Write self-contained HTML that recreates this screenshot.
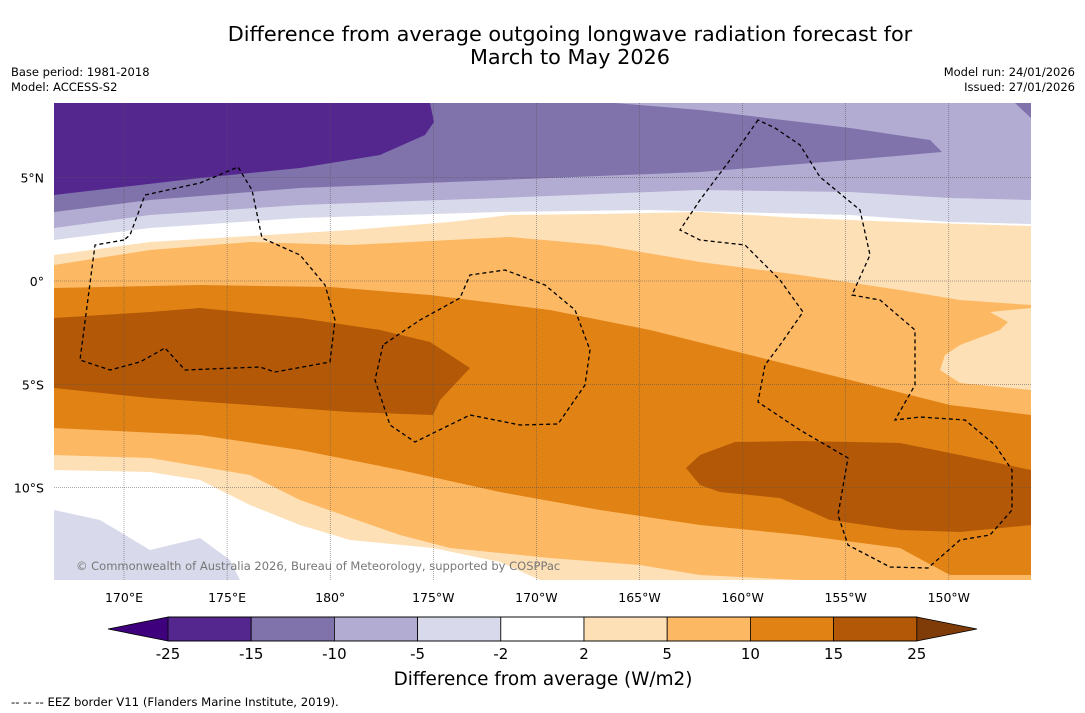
<!DOCTYPE html>
<html><head><meta charset="utf-8"><style>
body{margin:0;background:#fff;width:1085px;height:713px;overflow:hidden;font-family:"DejaVu Sans","Liberation Sans",sans-serif;}
svg{position:absolute;left:0;top:0;font-family:"DejaVu Sans","Liberation Sans",sans-serif;}
</style></head><body>
<svg id="chart" width="1085" height="713">
<text x="570" y="41" text-anchor="middle" font-size="20.8">Difference from average outgoing longwave radiation forecast for</text>
<text x="570" y="64" text-anchor="middle" font-size="20.8">March to May 2026</text>
<text x="11" y="76" font-size="11.5">Base period: 1981-2018</text>
<text x="11" y="91" font-size="11.5">Model: ACCESS-S2</text>
<text x="1075" y="76" font-size="11.5" text-anchor="end">Model run: 24/01/2026</text>
<text x="1075" y="91" font-size="11.5" text-anchor="end">Issued: 27/01/2026</text>
<g id="map"></g>
<g id="cbar"></g>
<text x="543" y="685" text-anchor="middle" font-size="18.4">Difference from average (W/m2)</text>
<text x="11" y="706" font-size="11.7">--  --  -- EEZ border V11 (Flanders Marine Institute, 2019).</text>
</svg>
<script>
const lonTicks=[170,175,180,-175,-170,-165,-160,-155,-150];
const lonLabels=["170°E","175°E","180°","175°W","170°W","165°W","160°W","155°W","150°W"];
const latTicks=[5,0,-5,-10];
const latLabels=["5°N","0°","5°S","10°S"];
const levels=[-25,-15,-10,-5,-2,2,5,10,15,25];
const levelColors=["#54278f","#8073ac","#b2abd2","#d8daeb","#ffffff","#fee0b6","#fdb863","#e08214","#b35806"];
const extColors=["#3f007d","#7f3b08"];
const NS="http://www.w3.org/2000/svg";
const X0=54,X1=1031,Y0=103,Y1=580;
function xs(lon){let l=lon<0?lon+360:lon;return 124+(l-170)*103.1/5;}
function ys(lat){return 281-lat*103.3/5;}
const map=document.getElementById('map');
function poly(parent,pts,fill,name){const p=document.createElementNS(NS,'polygon');p.setAttribute('points',pts.map(a=>a.join(',')).join(' '));p.setAttribute('fill',fill);


parent.appendChild(p);}
function below(line){return [...line,[X1,Y1],[X0,Y1]];}
const r=document.createElementNS(NS,'rect');r.setAttribute('x',X0);r.setAttribute('y',Y0);r.setAttribute('width',X1-X0);r.setAttribute('height',Y1-Y0);r.setAttribute('fill','#8073ac');map.appendChild(r);
const C=levelColors;
poly(map,[[54,103],[430,103],[434,122],[425,135],[380,155],[300,168],[200,178],[54,195]],C[0],'band-dark-purple');
poly(map,below([[54,212],[150,200],[300,188],[500,180],[700,172],[850,160],[942,152],[930,140],[850,128],[700,110],[615,103],[1015,103],[1031,118]]),C[2],'band-light-purple');
poly(map,below([[54,228],[150,215],[300,205],[500,198],[700,190],[850,192],[950,198],[1031,200]]),C[3],'band-lavender');
poly(map,below([[54,240],[150,228],[300,218],[500,212],[650,210],[850,215],[950,222],[1031,224]]),C[4],'band-white');
poly(map,below([[54,255],[150,242],[250,236],[350,230],[450,222],[510,215],[600,214],[700,212],[800,218],[900,222],[1031,226]]),C[5],'band-beige');
poly(map,below([[54,265],[150,250],[250,242],[350,245],[450,240],[510,237],[600,245],[700,262],[800,275],[900,290],[960,300],[1031,305]]),C[6],'band-orange');
poly(map,[[945,355],[960,345],[1000,330],[1008,322],[990,312],[1031,308],[1031,390],[960,383],[940,370]],C[5],'patch-beige-right');
poly(map,below([[54,288],[200,285],[330,287],[430,295],[550,310],[650,330],[750,355],[850,380],[950,405],[1031,415]]),C[7],'band-dark-orange');
poly(map,below([[54,428],[200,435],[300,450],[400,470],[500,492],[600,510],[700,525],[800,535],[900,548],[950,575],[1031,575]]),C[6],'band-orange-lower');
poly(map,below([[54,455],[150,458],[250,475],[300,500],[400,535],[450,548],[550,558],[640,565],[700,575],[800,580],[1031,580]]),C[5],'band-beige-lower');
poly(map,below([[54,470],[150,472],[200,480],[250,505],[300,525],[350,540],[433,548],[500,562],[540,580]]),C[4],'band-white-lower');
poly(map,below([[54,510],[100,520],[150,550],[200,538],[230,560],[240,580]]),C[3],'band-lavender-lower');
poly(map,[[54,318],[150,312],[200,308],[300,318],[380,330],[430,342],[470,368],[440,400],[433,415],[350,412],[250,405],[150,398],[54,388]],C[8],'patch-brown-left');
poly(map,[[686,468],[700,455],[735,442],[800,441],[900,443],[960,455],[1031,470],[1031,525],[960,532],[900,530],[830,520],[780,498],[720,492],[700,485]],C[8],'patch-brown-right');
lonTicks.forEach((l,i)=>{const x=xs(l);const ln=document.createElementNS(NS,'line');ln.setAttribute('x1',x);ln.setAttribute('x2',x);ln.setAttribute('y1',Y0);ln.setAttribute('y2',Y1);ln.setAttribute('stroke','#555');ln.setAttribute('stroke-width','0.5');ln.setAttribute('stroke-dasharray','1,1');


map.appendChild(ln);
const t=document.createElementNS(NS,'text');t.setAttribute('x',x);t.setAttribute('y',602);t.setAttribute('text-anchor','middle');t.setAttribute('font-size','12.5');t.textContent=lonLabels[i];


document.getElementById('chart').appendChild(t);});
latTicks.forEach((l,i)=>{const y=ys(l);const ln=document.createElementNS(NS,'line');ln.setAttribute('x1',X0);ln.setAttribute('x2',X1);ln.setAttribute('y1',y);ln.setAttribute('y2',y);ln.setAttribute('stroke','#555');ln.setAttribute('stroke-width','0.5');ln.setAttribute('stroke-dasharray','1,1');


map.appendChild(ln);
const t=document.createElementNS(NS,'text');t.setAttribute('x',44);t.setAttribute('y',y+5);t.setAttribute('text-anchor','end');t.setAttribute('font-size','12.5');t.textContent=latLabels[i];


document.getElementById('chart').appendChild(t);});
const eez=[
[[124,240],[95,245],[80,360],[110,370],[140,362],[165,348],[185,370],[260,367],[275,372],[330,362],[335,320],[325,285],[300,255],[262,238],[252,190],[238,167],[200,183],[145,195],[130,235]],
[[383,345],[375,380],[390,425],[415,442],[470,415],[520,425],[558,424],[585,385],[590,350],[575,310],[545,285],[505,270],[470,275],[460,298],[420,320]],
[[758,120],[730,160],[700,200],[680,230],[700,240],[745,245],[780,280],[803,312],[780,345],[765,365],[758,402],[800,430],[848,458],[838,515],[848,545],[890,567],[928,568],[960,540],[990,535],[1012,510],[1012,470],[995,445],[965,420],[920,417],[895,420],[915,385],[915,330],[880,300],[852,295],[870,255],[860,210],[820,177],[800,145],[775,128]]];
eez.forEach(pts=>{const p=document.createElementNS(NS,'polygon');p.setAttribute('points',pts.map(a=>a.join(',')).join(' '));p.setAttribute('fill','none');p.setAttribute('stroke','#000');p.setAttribute('stroke-width','1.3');p.setAttribute('stroke-dasharray','4,3');


map.appendChild(p);});
const cp=document.createElementNS(NS,'text');cp.setAttribute('x',76);cp.setAttribute('y',570);cp.setAttribute('font-size','11.5');cp.setAttribute('fill','#777');cp.textContent='© Commonwealth of Australia 2026, Bureau of Meteorology, supported by COSPPac';


map.appendChild(cp);
const cb=document.getElementById('cbar');const bx0=168,bw=83.2,by=617,bh=24;
poly(cb,[[108,629],[bx0,by],[bx0,by+bh]],extColors[0],'colorbar-extension-low');
poly(cb,[[977,629],[bx0+9*bw,by],[bx0+9*bw,by+bh]],extColors[1],'colorbar-extension-high');
levelColors.forEach((c,i)=>{const rr=document.createElementNS(NS,'rect');rr.setAttribute('x',bx0+i*bw);rr.setAttribute('y',by);rr.setAttribute('width',bw);rr.setAttribute('height',bh);rr.setAttribute('fill',c);rr.setAttribute('stroke','#000');rr.setAttribute('stroke-width','0.8');


cb.appendChild(rr);});
const ol=document.createElementNS(NS,'polygon');ol.setAttribute('points',`108,629 ${bx0},${by} ${bx0+9*bw},${by} 977,629 ${bx0+9*bw},${by+bh} ${bx0},${by+bh}`);ol.setAttribute('fill','none');ol.setAttribute('stroke','#000');ol.setAttribute('stroke-width','0.8');cb.appendChild(ol);
levels.forEach((v,i)=>{const t=document.createElementNS(NS,'text');t.setAttribute('x',bx0+i*bw);t.setAttribute('y',659);t.setAttribute('text-anchor','middle');t.setAttribute('font-size','15');t.textContent=v;


cb.appendChild(t);});
</script>
</body></html>
